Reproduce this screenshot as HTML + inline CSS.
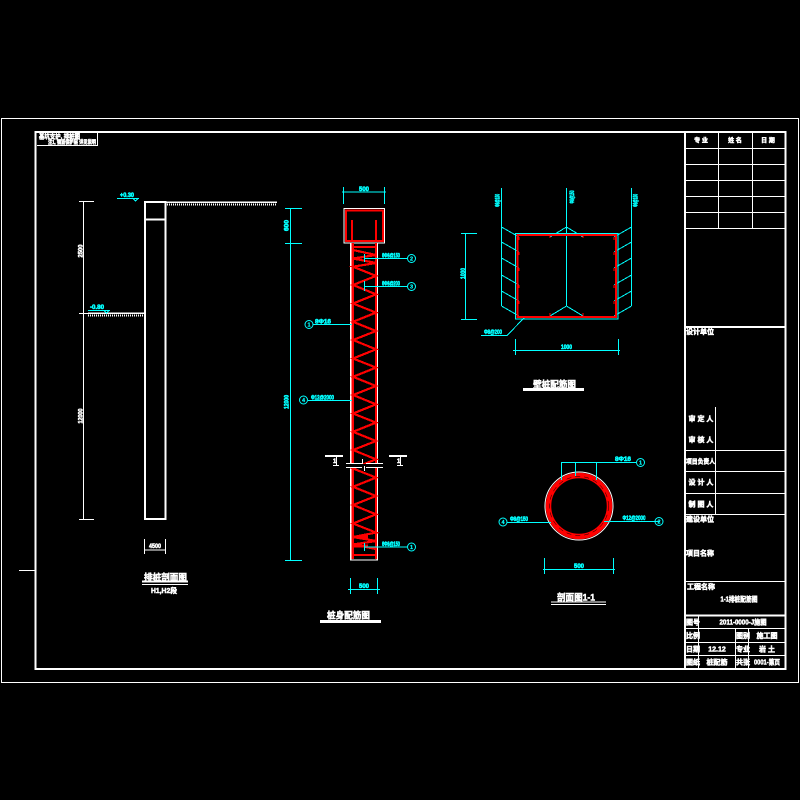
<!DOCTYPE html>
<html><head><meta charset="utf-8"><style>
html,body{margin:0;padding:0;background:#000;width:800px;height:800px;overflow:hidden}
svg{display:block}
text{font-family:"Liberation Sans","Noto Sans CJK SC",sans-serif;font-weight:700}
.w{fill:#fff;font-size:7px;stroke:#fff;stroke-width:.5}
.c{fill:#0ff;font-size:6.5px;stroke:#0ff;stroke-width:.6}
.t{fill:#fff;font-size:9px;stroke:#fff;stroke-width:.5}
.m{text-anchor:middle}
</style></head><body>
<svg width="800" height="800" viewBox="0 0 800 800" xmlns="http://www.w3.org/2000/svg">
<rect width="800" height="800" fill="#000"/>
<!-- frames -->
<g fill="none" stroke="#fff" shape-rendering="crispEdges">
<rect x="1.5" y="118.5" width="797" height="564"/>
<path d="M19 570.5H35"/>
<rect x="35.5" y="132" width="750" height="537" stroke-width="2.4"/>
<path d="M37 145.5H97.5V132" stroke-width="1"/>
<path d="M685 132V669" stroke-width="1.6"/>
<path d="M685 148.5H785M685 164.5H785M685 180.5H785M685 196.5H785M685 212.5H785M685 228.5H785M718.5 132V228M752.5 132V228"/>
<path d="M685 327H785" stroke-width="2"/>
<path d="M715.5 407V514M685 450.5H785M685 471.5H785M685 493.5H785M685 514.5H785M685 581.5H785"/>
<path d="M685 615.5H785" stroke-width="2"/>
<path d="M685 628.5H785M685 642.5H785M685 655.5H785M698.5 615V668M735.5 628V668M748.5 628V668"/>
</g>
<!-- title block text -->
<text x="39" y="138.5" class="w" style="font-size:6.5px" textLength="41" lengthAdjust="spacingAndGlyphs">基坑支护, 排桩图</text>
<text x="48" y="144" class="w" style="font-size:5.5px" textLength="48" lengthAdjust="spacingAndGlyphs">注1, 钢筋保护层 详见说明</text>
<g class="w">
<text x="701" y="142.5" class="w m" style="font-size:6px">专 业</text>
<text x="735" y="142.5" class="w m" style="font-size:6px">姓 名</text>
<text x="768" y="142.5" class="w m" style="font-size:6px">日 期</text>
<text x="686" y="334">设计单位</text>
<text x="701" y="421" class="w m">审 定 人</text>
<text x="701" y="442" class="w m">审 核 人</text>
<text x="686" y="463.5" style="font-size:6.5px" textLength="29" lengthAdjust="spacingAndGlyphs">项目负责人</text>
<text x="701" y="484.5" class="w m">设 计 人</text>
<text x="701" y="506.5" class="w m">制 图 人</text>
<text x="686" y="521.500">建设单位</text>
<text x="686" y="555.500">项目名称</text>
<text x="687" y="589">工程名称</text>
<text x="739" y="601.5" class="w m" textLength="37" lengthAdjust="spacingAndGlyphs">1-1排桩配筋图</text>
<text x="686" y="624.5">图号</text>
<text x="743" y="624.5" class="w m" textLength="47" lengthAdjust="spacingAndGlyphs">2011-0000-J施图</text>
<text x="686" y="638">比例</text>
<text x="736" y="638">图别</text>
<text x="767" y="638" class="w m">施工图</text>
<text x="686" y="651.5">日期</text>
<text x="717" y="651.5" class="w m">12.12</text>
<text x="736" y="651.5">专业</text>
<text x="767" y="651.5" class="w m">岩 土</text>
<text x="686" y="664.5">图纸</text>
<text x="717" y="664.5" class="w m">桩配筋</text>
<text x="736" y="664.5">共张</text>
<text x="767" y="664.5" class="w m" textLength="26" lengthAdjust="spacingAndGlyphs">0001-第页</text>
</g>

<!-- left pile section -->
<g fill="none" stroke="#fff" shape-rendering="crispEdges">
<rect x="145" y="202" width="20.5" height="317" stroke-width="2"/>
<path d="M145 219.5H165" stroke-width="2"/>
<path d="M166 202H277" stroke-width="1.5"/>
<path d="M167 204.5H276" stroke-width="2" stroke-dasharray="1 1"/>
<path d="M88 313H144" stroke-width="1.5"/>
<path d="M88 315.500H143" stroke-width="2" stroke-dasharray="1 1"/>
<path d="M83.5 201V520"/>
<path d="M79 201.5H94M79 313.5H94M79 519.5H94"/>
<path d="M144.5 539V554M165.5 539V554M145 550H165"/>
<path d="M142 581.5H188" stroke-width="2"/>
<path d="M142 584.5H188"/>
</g>
<text transform="translate(82.5,251) rotate(-90)" class="w m" style="font-size:6.5px" textLength="13" lengthAdjust="spacingAndGlyphs">2500</text>
<text transform="translate(82.5,416) rotate(-90)" class="w m" style="font-size:6.5px" textLength="15" lengthAdjust="spacingAndGlyphs">12000</text>
<text x="155" y="548" class="w m" style="font-size:6.5px" textLength="12" lengthAdjust="spacingAndGlyphs">4500</text>
<text x="165.500" y="580.500" class="t m" textLength="43" lengthAdjust="spacingAndGlyphs">排桩剖面图</text>
<text x="164" y="593" class="w m" textLength="26" lengthAdjust="spacingAndGlyphs">H1,H2段</text>
<g fill="none" stroke="#0ff" shape-rendering="crispEdges">
<path d="M117 198.5H139M88 310.5H110"/>
</g>
<path d="M133 198.500L135.500 201L138 198.500M104 310.500L106.500 313L109 310.500" fill="none" stroke="#0ff" shape-rendering="crispEdges"/>
<text x="127" y="197" class="c m" textLength="14" lengthAdjust="spacingAndGlyphs">+0.30</text>
<text x="97" y="309" class="c m" textLength="14" lengthAdjust="spacingAndGlyphs">-0.80</text>

<!-- column -->
<rect x="344" y="208.5" width="40.5" height="34.5" fill="none" stroke="#fff" stroke-width="1.4" shape-rendering="crispEdges"/>
<rect x="346" y="210.5" width="37" height="30.5" fill="none" stroke="#f00" stroke-width="2.4" shape-rendering="crispEdges"/>
<path d="M352 220V241M376 220V241" stroke="#f00" stroke-width="2" fill="none" shape-rendering="crispEdges"/>
<path d="M350.7 243V560H377.3V243" fill="none" stroke="#fff" stroke-width="1.4" shape-rendering="crispEdges"/>
<path d="M352.8 243V559M376 243V559" stroke="#f00" stroke-width="2.2" fill="none" shape-rendering="crispEdges"/>
<path d="M353 247H376M353 250L376 255L353 258.500L376 263L353 266.700L376 275.900L353 285L376 294.300L353 303.500L376 312.600L353 321.800L376 331L353 340L376 349.300L353 358.500L376 367.600L353 376.800L376 386L353 395L376 404.300L353 413.500L376 422.600L353 431.800L376 441L353 450L376 459.300L353 468.500L376 477.600L353 486.800L376 496L353 505L376 514.300L353 523.500L376 532.600L353 537L376 541L353 544.500L376 549M353 555H376" fill="none" stroke="#f00" stroke-width="2.2" shape-rendering="crispEdges"/>
<path d="M353 537H368M353 546H368" stroke="#f00" stroke-width="3" shape-rendering="crispEdges"/>
<rect x="346" y="464" width="37" height="3" fill="#000"/>
<g fill="none" stroke="#fff" shape-rendering="crispEdges">
<path d="M346 463.5H362M366 463.5H383M346 467.5H362M366 467.5H383M362.5 459V464M364.5 466V471"/>
<path d="M325 456H343M389 456H407" stroke-width="2"/>
<path d="M336.500 456V465M400.500 456V465M333 465.500H339M397 465.500H403"/>
</g>
<text x="333" y="463" class="w" style="font-size:6px">1</text>
<text x="397" y="463" class="w" style="font-size:6px">1</text>
<g fill="none" stroke="#0ff" shape-rendering="crispEdges">
<path d="M290.5 208V560M285 208.5H302M285 243.5H302M285 560.5H302"/>
<path d="M343.5 187V204M384.5 187V204M342 192H386"/>
<path d="M350.5 578V594M377.5 578V594M348 589.5H380"/>
<path d="M364.5 254V262M364 258.5H407M364.5 281V291M364 286.5H407M364.5 543V551M364 547H407"/>
<path d="M313 324.5H352M308 400.5H352"/>
</g>
<g fill="none" stroke="#0ff">
<circle cx="411.5" cy="258.5" r="4"/><circle cx="411.5" cy="286.5" r="4"/><circle cx="411.5" cy="547" r="4"/>
<circle cx="309" cy="324.5" r="4"/><circle cx="303.5" cy="400" r="4"/>
</g>
<text x="411.5" y="260.5" class="c m" style="font-size:5.5px;stroke-width:.2">2</text>
<text x="411.5" y="288.5" class="c m" style="font-size:5.5px;stroke-width:.2">3</text>
<text x="411.5" y="549" class="c m" style="font-size:5.5px;stroke-width:.2">1</text>
<text x="309" y="326.5" class="c m" style="font-size:5.5px;stroke-width:.2">1</text>
<text x="303.5" y="402" class="c m" style="font-size:5.5px;stroke-width:.2">4</text>
<text x="391" y="257.5" class="c m" textLength="18" lengthAdjust="spacingAndGlyphs">6Φ8@150</text>
<text x="391" y="285.500" class="c m" textLength="18" lengthAdjust="spacingAndGlyphs">6Φ8@200</text>
<text x="391" y="546" class="c m" textLength="18" lengthAdjust="spacingAndGlyphs">6Φ8@150</text>
<text x="323" y="323.5" class="c m" textLength="16" lengthAdjust="spacingAndGlyphs">8Φ16</text>
<text x="322.5" y="399.5" class="c m" textLength="23" lengthAdjust="spacingAndGlyphs">Φ12@2000</text>
<text x="364" y="191" class="c m" textLength="10" lengthAdjust="spacingAndGlyphs">500</text>
<text x="364" y="588" class="c m" textLength="10" lengthAdjust="spacingAndGlyphs">500</text>
<text transform="translate(288.5,225.5) rotate(-90)" class="c m" textLength="11" lengthAdjust="spacingAndGlyphs">600</text>
<text transform="translate(288.5,402) rotate(-90)" class="c m" textLength="14" lengthAdjust="spacingAndGlyphs">12000</text>
<text x="348.5" y="618.5" class="t m" textLength="43" lengthAdjust="spacingAndGlyphs">桩身配筋图</text>
<rect x="320" y="620" width="61" height="3" fill="#fff"/>

<!-- wall section -->
<g fill="none" stroke="#0ff" shape-rendering="crispEdges">
<rect x="515.5" y="233.5" width="102.5" height="85.5"/>
<path d="M501.5 188V306M631.5 188V306M566.5 188V306"/>
<path d="M501.500 227L519 237M501.500 242L519 252M501.500 258L519 268M501.500 275L519 285M501.500 291L519 301M501.500 306L519 316"/>
<path d="M631.500 227L614 237M631.500 242L614 252M631.500 258L614 268M631.500 275L614 285M631.500 291L614 301M631.500 306L614 316"/>
<path d="M566.500 227L550 237M566.500 227L583 237M566.500 306L550 316M566.500 306L583 316"/>
<path d="M525 317L507 335.500H481"/>
<path d="M465.5 233V320M461 233.5H477M461 319.5H477"/>
<path d="M515.5 339V355M618.5 339V355M513 350.5H620"/>
</g>
<rect x="517.5" y="235" width="98.5" height="82" fill="none" stroke="#f00" stroke-width="2.2" shape-rendering="crispEdges"/>
<path d="M519 237V240M519 252V255M519 268V271M519 285V288M519 301V304M614 237V240M614 252V255M614 268V271M614 285V288M614 301V304M550 236V238M583 236V238M550 313V316M583 313V316" stroke="#f00" stroke-width="1" shape-rendering="crispEdges"/>
<text transform="translate(499.5,200.500) rotate(-90)" class="c m" textLength="13" lengthAdjust="spacingAndGlyphs">Φ8@150</text>
<text transform="translate(574,197) rotate(-90)" class="c m" textLength="13" lengthAdjust="spacingAndGlyphs">Φ8@150</text>
<text transform="translate(637.5,200.500) rotate(-90)" class="c m" textLength="13" lengthAdjust="spacingAndGlyphs">Φ8@150</text>
<text transform="translate(465,273.500) rotate(-90)" class="c m" textLength="11" lengthAdjust="spacingAndGlyphs">1000</text>
<text x="566.5" y="349" class="c m" textLength="11" lengthAdjust="spacingAndGlyphs">1000</text>
<text x="493" y="334" class="c m" textLength="18" lengthAdjust="spacingAndGlyphs">Φ8@200</text>
<text x="554.5" y="387.5" class="t m" textLength="43" lengthAdjust="spacingAndGlyphs">壁桩配筋图</text>
<rect x="523" y="388" width="61" height="3" fill="#fff"/>

<!-- circular section -->
<circle cx="579" cy="506" r="34" fill="none" stroke="#fff" stroke-width="1"/>
<circle cx="579" cy="506" r="30.5" fill="none" stroke="#f00" stroke-width="5.5"/>
<circle cx="579" cy="506" r="29.5" fill="none" stroke="#000" stroke-width=".5" stroke-dasharray="5 4"/>
<g fill="none" stroke="#0ff" shape-rendering="crispEdges">
<path d="M561.5 480V462.5H636M575.5 476V463M596.5 480V463"/>
<path d="M507 522.5H551M604 521.5H660"/>
<path d="M544.5 558V574M613.5 558V574M543 569.5H615"/>
</g>
<circle cx="640.5" cy="462.5" r="4" fill="none" stroke="#0ff"/>
<circle cx="503" cy="522" r="4" fill="none" stroke="#0ff"/>
<circle cx="659" cy="521.5" r="4" fill="none" stroke="#0ff"/>
<text x="640.5" y="464.5" class="c m" style="font-size:5.5px;stroke-width:.2">1</text>
<text x="503" y="524" class="c m" style="font-size:5.5px;stroke-width:.2">4</text>
<text x="659" y="523.5" class="c m" style="font-size:5.5px;stroke-width:.2">2</text>
<text x="623" y="461" class="c m" textLength="16" lengthAdjust="spacingAndGlyphs">8Φ16</text>
<text x="519" y="521" class="c m" textLength="18" lengthAdjust="spacingAndGlyphs">Φ8@150</text>
<text x="634" y="520" class="c m" textLength="23" lengthAdjust="spacingAndGlyphs">Φ12@2000</text>
<text x="579" y="568" class="c m" textLength="10" lengthAdjust="spacingAndGlyphs">500</text>
<text x="576" y="600.5" class="t m" textLength="38" lengthAdjust="spacingAndGlyphs">剖面图1-1</text>
<path d="M551 602H606M551 604.5H606" stroke="#fff" stroke-width="1.2" shape-rendering="crispEdges"/>
</svg>
</body></html>
